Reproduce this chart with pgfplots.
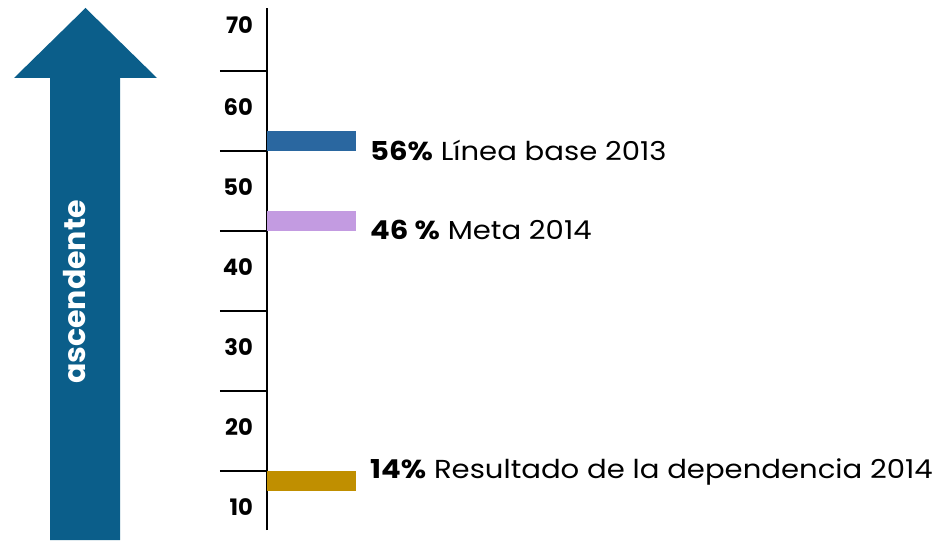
\documentclass[border=0pt]{standalone}
\usepackage{fontspec}
\setmainfont{Poppins}
\usepackage{pgfplots}
\pgfplotsset{compat=1.18}

\definecolor{arrowblue}{RGB}{11,94,138}
\definecolor{cbase}{RGB}{42,103,160}
\definecolor{cmeta}{RGB}{195,155,225}
\definecolor{cres}{RGB}{192,143,0}

\newcommand{\lblfont}{\fontsize{19.5}{19.5}\selectfont\addfontfeature{FakeStretch=1.12}}

\begin{document}
\begin{tikzpicture}[x=0.75pt,y=0.75pt]
\useasboundingbox (0,0) rectangle (942,540);

% flecha ascendente
\fill[arrowblue] (50,0) -- (50,462) -- (14,462) -- (85.5,532) -- (157,462)
  -- (120,462) -- (120,0) -- cycle;
\node[rotate=90, anchor=base, text=white, font=\bfseries\fontsize{22.5}{22.5}\selectfont]
  at (85,248) {ascendente};

\begin{axis}[
    at={(200.25pt,7.5pt)},
    anchor=south west,
    scale only axis,
    width=66.75pt,
    height=391.5pt,
    xmin=0, xmax=1,
    ymin=7.625, ymax=72.875,
    clip=false,
    axis x line=none,
    axis y line*=left,
    axis line style={line width=1.5pt, black},
    ytick={15,25,35,45,55,65},
    yticklabels={},
    tick align=outside,
    major tick length=35.25pt,
    tick style={line width=1.5pt, black},
    extra y ticks={10.5,20.5,30.5,40.5,50.5,60.5,70.7},
    extra y tick labels={10,20,30,40,50,60,70},
    extra y tick style={major tick length=0pt,
        tick label style={font=\bfseries\fontsize{17}{17}\selectfont, xshift=-7pt}},
]
\addplot[fill=cbase, draw=none] coordinates {(0,55) (1,55) (1,57.5) (0,57.5)} -- cycle;
\addplot[fill=cmeta, draw=none] coordinates {(0,45) (1,45) (1,47.5) (0,47.5)} -- cycle;
\addplot[fill=cres, draw=none] coordinates {(0,12.5) (1,12.5) (1,15) (0,15)} -- cycle;

\node[anchor=base west, inner sep=0pt, font=\lblfont]
  at (axis cs:1.157,53.75) {\textbf{56\%} Línea base 2013};
\node[anchor=base west, inner sep=0pt, font=\lblfont]
  at (axis cs:1.157,43.875) {\textbf{46 \%} Meta 2014};
\node[anchor=base west, inner sep=0pt, font=\lblfont]
  at (axis cs:1.157,14.125) {\textbf{14\%} Resultado de la dependencia 2014};
\end{axis}
\end{tikzpicture}
\end{document}
